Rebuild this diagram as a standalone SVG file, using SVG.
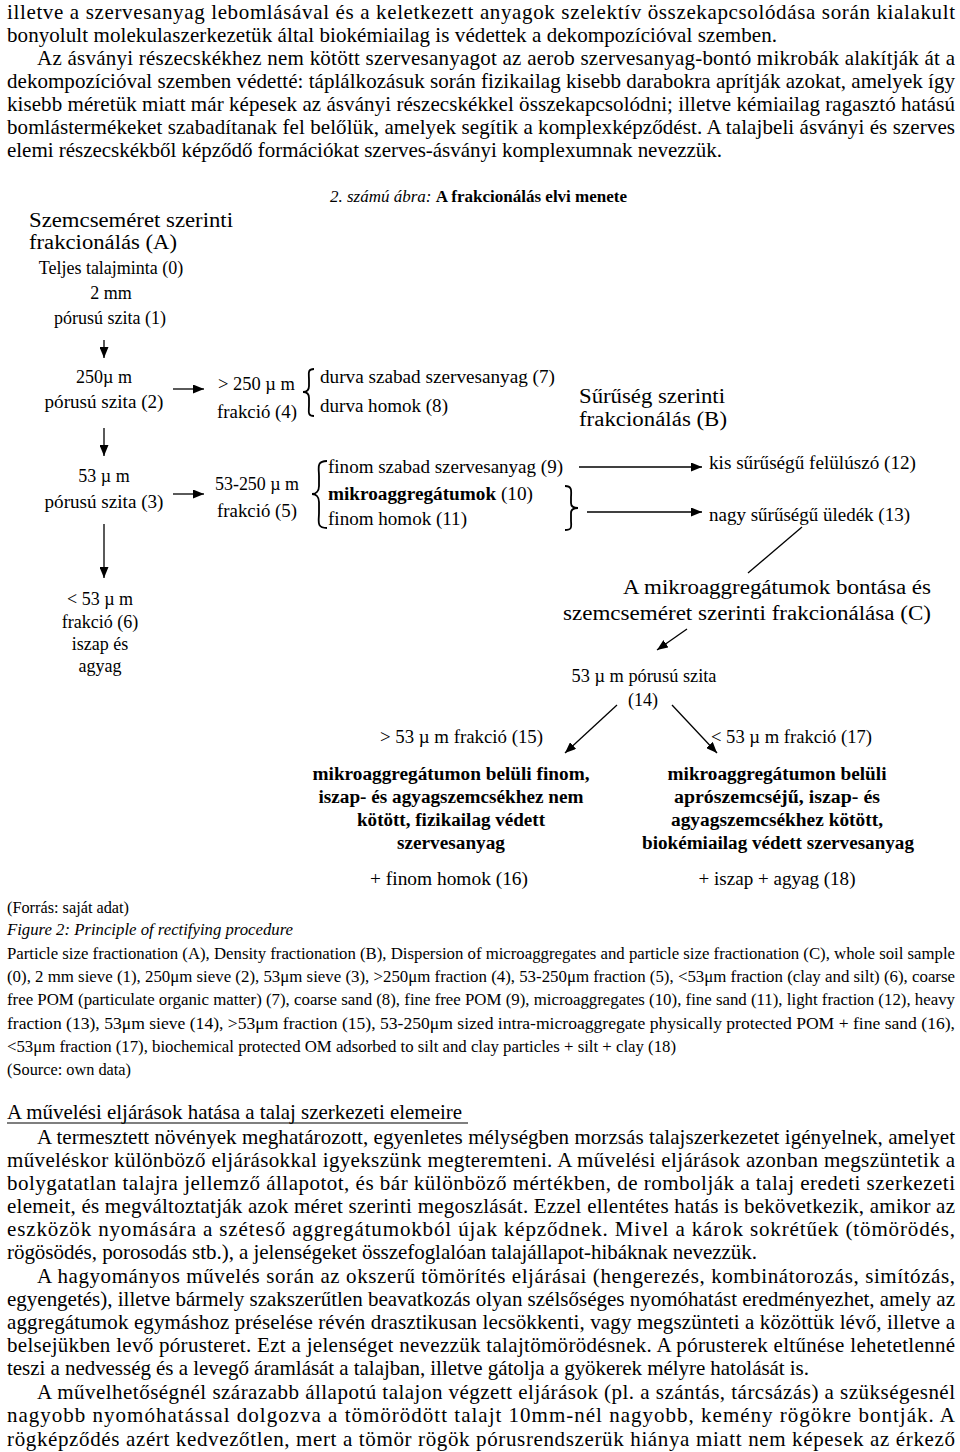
<svg xmlns="http://www.w3.org/2000/svg" width="960" height="1452" viewBox="0 0 960 1452">
<style>
text{font-family:"Liberation Serif","Times New Roman",serif;fill:#000}
.p{font-size:21px}
.c{font-size:16px}
.d{font-size:18px}
.h{font-size:20px}
.bd{font-weight:bold}
.it{font-style:italic}
.m{text-anchor:middle}
.ln{stroke:#000;stroke-width:1.3;fill:none}
.br{stroke:#000;stroke-width:1.8;fill:none}
</style>
<defs>
<marker id="ah" markerUnits="userSpaceOnUse" markerWidth="11" markerHeight="9" refX="11" refY="4.5" orient="auto">
<path d="M0,0 L11,4.5 L0,9 z" fill="#000"/>
</marker>
</defs>
<rect width="960" height="1452" fill="#fff"/>

<g id="text-top" class="p">
<text class="p" x="7" y="19" textLength="948" lengthAdjust="spacing">illetve a szervesanyag lebomlásával és a keletkezett anyagok szelektív összekapcsolódása során kialakult</text>
<text class="p" x="7" y="42" textLength="770" lengthAdjust="spacing">bonyolult molekulaszerkezetük által biokémiailag is védettek a dekompozícióval szemben.</text>
<text class="p" x="37" y="65" textLength="918" lengthAdjust="spacing">Az ásványi részecskékhez nem kötött szervesanyagot az aerob szervesanyag-bontó mikrobák alakítják át a</text>
<text class="p" x="7" y="88" textLength="948" lengthAdjust="spacing">dekompozícióval szemben védetté: táplálkozásuk során fizikailag kisebb darabokra aprítják azokat, amelyek így</text>
<text class="p" x="7" y="111" textLength="948" lengthAdjust="spacing">kisebb méretük miatt már képesek az ásványi részecskékkel összekapcsolódni; illetve kémiailag ragasztó hatású</text>
<text class="p" x="7" y="134" textLength="948" lengthAdjust="spacing">bomlástermékeket szabadítanak fel belőlük, amelyek segítik a komplexképződést. A talajbeli ásványi és szerves</text>
<text class="p" x="7" y="157" textLength="715" lengthAdjust="spacing">elemi részecskékből képződő formációkat szerves-ásványi komplexumnak nevezzük.</text>
</g>

<g id="fig-title">
<text class="c" x="330" y="202" textLength="297" lengthAdjust="spacingAndGlyphs"><tspan class="it">2. számú ábra: </tspan><tspan class="bd">A frakcionálás elvi menete</tspan></text>
</g>

<g id="connectors">
<line class="ln" x1="104" y1="340" x2="104" y2="358" marker-end="url(#ah)"/>
<line class="ln" x1="104" y1="428" x2="104" y2="456" marker-end="url(#ah)"/>
<line class="ln" x1="104" y1="524" x2="104" y2="578" marker-end="url(#ah)"/>
<line class="ln" x1="173" y1="389" x2="204" y2="389" marker-end="url(#ah)"/>
<line class="ln" x1="173" y1="494" x2="204" y2="494" marker-end="url(#ah)"/>
<line class="ln" x1="579" y1="467" x2="702" y2="467" marker-end="url(#ah)"/>
<line class="ln" x1="587" y1="512" x2="702" y2="512" marker-end="url(#ah)"/>
<line class="ln" x1="802" y1="527" x2="748" y2="573"/>
<line class="ln" x1="687" y1="629" x2="657" y2="650" marker-end="url(#ah)"/>
<line class="ln" x1="617" y1="705" x2="565" y2="753" marker-end="url(#ah)"/>
<line class="ln" x1="672" y1="705" x2="717" y2="753" marker-end="url(#ah)"/>
<path class="br" d="M314,369 C307,369 309,374 309,380 L309,386 C309,390 307,392 303,392 C307,392 309,394 309,398 L309,405 C309,411 307,416 314,416"/>
<path class="br" d="M327,461 C316,461 319,468 319,476 L319,486 C319,491 316,494 312,494 C316,494 319,497 319,502 L319,513 C319,521 316,528 327,528"/>
<path class="br" d="M565,486 C573,486 571,492 571,498 L571,503 C571,506 573,508 578,508 C573,508 571,510 571,513 L571,520 C571,526 573,530 565,530"/>
</g>

<g id="head-A">
<text class="h" x="29" y="227" textLength="204" lengthAdjust="spacingAndGlyphs">Szemcseméret szerinti</text>
<text class="h" x="29" y="249" textLength="148" lengthAdjust="spacingAndGlyphs">frakcionálás (A)</text>
</g>
<g id="n0">
<text class="d m" x="111" y="274">Teljes talajminta (0)</text>
</g>
<g id="n1">
<text class="d m" x="111" y="299">2 mm</text>
<text class="d m" x="110" y="324">pórusú szita (1)</text>
</g>
<g id="n2">
<text class="d m" x="104" y="383">250µ m</text>
<text class="d m" x="104" y="408" textLength="119" lengthAdjust="spacingAndGlyphs">pórusú szita (2)</text>
</g>
<g id="n4">
<text class="d" x="218" y="390" textLength="77" lengthAdjust="spacingAndGlyphs">&gt; 250 µ m</text>
<text class="d" x="217" y="418" textLength="80" lengthAdjust="spacingAndGlyphs">frakció (4)</text>
</g>
<g id="n7-8">
<text class="d" x="320" y="383" textLength="235" lengthAdjust="spacingAndGlyphs">durva szabad szervesanyag (7)</text>
<text class="d" x="320" y="412" textLength="128" lengthAdjust="spacingAndGlyphs">durva homok (8)</text>
</g>
<g id="head-B">
<text class="h" x="579" y="403" textLength="146" lengthAdjust="spacingAndGlyphs">Sűrűség szerinti</text>
<text class="h" x="579" y="426" textLength="148" lengthAdjust="spacingAndGlyphs">frakcionálás (B)</text>
</g>
<g id="n3">
<text class="d m" x="104" y="482">53 µ m</text>
<text class="d m" x="104" y="508" textLength="119" lengthAdjust="spacingAndGlyphs">pórusú szita (3)</text>
</g>
<g id="n5">
<text class="d" x="215" y="490" textLength="84" lengthAdjust="spacingAndGlyphs">53-250 µ m</text>
<text class="d" x="217" y="517" textLength="80" lengthAdjust="spacingAndGlyphs">frakció (5)</text>
</g>
<g id="n9-11">
<text class="d" x="328" y="473" textLength="235" lengthAdjust="spacingAndGlyphs">finom szabad szervesanyag (9)</text>
<text class="d" x="328" y="500" textLength="205" lengthAdjust="spacingAndGlyphs"><tspan class="bd">mikroaggregátumok</tspan> (10)</text>
<text class="d" x="328" y="525" textLength="139" lengthAdjust="spacingAndGlyphs">finom homok (11)</text>
</g>
<g id="n12">
<text class="d" x="709" y="469" textLength="207" lengthAdjust="spacingAndGlyphs">kis sűrűségű felülúszó (12)</text>
</g>
<g id="n13">
<text class="d" x="709" y="521" textLength="201" lengthAdjust="spacingAndGlyphs">nagy sűrűségű üledék (13)</text>
</g>
<g id="n6">
<text class="d m" x="100" y="605">&lt; 53 µ m</text>
<text class="d m" x="100" y="628">frakció (6)</text>
<text class="d m" x="100" y="650">iszap és</text>
<text class="d m" x="100" y="672">agyag</text>
</g>
<g id="head-C">
<text class="h" x="623" y="594" textLength="308" lengthAdjust="spacingAndGlyphs">A mikroaggregátumok bontása és</text>
<text class="h" x="563" y="620" textLength="368" lengthAdjust="spacingAndGlyphs">szemcseméret szerinti frakcionálása (C)</text>
</g>
<g id="n14">
<text class="d m" x="644" y="682" textLength="145" lengthAdjust="spacingAndGlyphs">53 µ m pórusú szita</text>
<text class="d m" x="643" y="706">(14)</text>
</g>
<g id="n15">
<text class="d" x="380" y="743" textLength="163" lengthAdjust="spacingAndGlyphs">&gt; 53 µ m frakció (15)</text>
</g>
<g id="n17">
<text class="d" x="711" y="743" textLength="161" lengthAdjust="spacingAndGlyphs">&lt; 53 µ m frakció (17)</text>
</g>
<g id="n16">
<text class="d bd m" x="451" y="780" textLength="277" lengthAdjust="spacingAndGlyphs">mikroaggregátumon belüli finom,</text>
<text class="d bd m" x="451" y="803" textLength="265" lengthAdjust="spacingAndGlyphs">iszap- és agyagszemcsékhez nem</text>
<text class="d bd m" x="451" y="826" textLength="188" lengthAdjust="spacingAndGlyphs">kötött, fizikailag védett</text>
<text class="d bd m" x="451" y="849" textLength="108" lengthAdjust="spacingAndGlyphs">szervesanyag</text>
<text class="d m" x="449" y="885" textLength="158" lengthAdjust="spacingAndGlyphs">+ finom homok (16)</text>
</g>
<g id="n18">
<text class="d bd m" x="777" y="780" textLength="219" lengthAdjust="spacingAndGlyphs">mikroaggregátumon belüli</text>
<text class="d bd m" x="777" y="803" textLength="206" lengthAdjust="spacingAndGlyphs">aprószemcséjű, iszap- és</text>
<text class="d bd m" x="777" y="826" textLength="212" lengthAdjust="spacingAndGlyphs">agyagszemcsékhez kötött,</text>
<text class="d bd m" x="778" y="849" textLength="272" lengthAdjust="spacingAndGlyphs">biokémiailag védett szervesanyag</text>
<text class="d m" x="777" y="885" textLength="157" lengthAdjust="spacingAndGlyphs">+ iszap + agyag (18)</text>
</g>

<g id="caption">
<text class="c" x="7" y="913" textLength="122" lengthAdjust="spacingAndGlyphs">(Forrás: saját adat)</text>
<text class="c it" x="7" y="935" textLength="286" lengthAdjust="spacingAndGlyphs">Figure 2: Principle of rectifying procedure</text>
<text class="c" x="7" y="959" textLength="948" lengthAdjust="spacingAndGlyphs">Particle size fractionation (A), Density fractionation (B), Dispersion of microaggregates and particle size fractionation (C), whole soil sample</text>
<text class="c" x="7" y="982" textLength="948" lengthAdjust="spacingAndGlyphs">(0), 2 mm sieve (1), 250μm sieve (2), 53μm sieve (3), &gt;250μm fraction (4), 53-250μm fraction (5), &lt;53μm fraction (clay and silt) (6), coarse</text>
<text class="c" x="7" y="1005" textLength="948" lengthAdjust="spacingAndGlyphs">free POM (particulate organic matter) (7), coarse sand (8), fine free POM (9), microaggregates (10), fine sand (11), light fraction (12), heavy</text>
<text class="c" x="7" y="1029" textLength="948" lengthAdjust="spacingAndGlyphs">fraction (13), 53μm sieve (14), &gt;53μm fraction (15), 53-250μm sized intra-microaggregate physically protected POM + fine sand (16),</text>
<text class="c" x="7" y="1052" textLength="669" lengthAdjust="spacingAndGlyphs">&lt;53μm fraction (17), biochemical protected OM adsorbed to silt and clay particles + silt + clay (18)</text>
<text class="c" x="7" y="1075" textLength="124" lengthAdjust="spacingAndGlyphs">(Source: own data)</text>
</g>

<g id="text-bottom">
<text class="p" x="7" y="1119" textLength="455" lengthAdjust="spacingAndGlyphs">A művelési eljárások hatása a talaj szerkezeti elemeire</text>
<line x1="7" y1="1123" x2="468" y2="1123" stroke="#000" stroke-width="1.2"/>
<text class="p" x="37" y="1144" textLength="918" lengthAdjust="spacing">A termesztett növények meghatározott, egyenletes mélységben morzsás talajszerkezetet igényelnek, amelyet</text>
<text class="p" x="7" y="1167" textLength="948" lengthAdjust="spacing">műveléskor különböző eljárásokkal igyekszünk megteremteni. A művelési eljárások azonban megszüntetik a</text>
<text class="p" x="7" y="1190" textLength="948" lengthAdjust="spacing">bolygatatlan talajra jellemző állapotot, és bár különböző mértékben, de rombolják a talaj eredeti szerkezeti</text>
<text class="p" x="7" y="1213" textLength="948" lengthAdjust="spacing">elemeit, és megváltoztatják azok méret szerinti megoszlását. Ezzel ellentétes hatás is bekövetkezik, amikor az</text>
<text class="p" x="7" y="1236" textLength="948" lengthAdjust="spacing">eszközök nyomására a széteső aggregátumokból újak képződnek. Mivel a károk sokrétűek (tömörödés,</text>
<text class="p" x="7" y="1259" textLength="750" lengthAdjust="spacing">rögösödés, porosodás stb.), a jelenségeket összefoglalóan talajállapot-hibáknak nevezzük.</text>
<text class="p" x="37" y="1283" textLength="918" lengthAdjust="spacing">A hagyományos művelés során az okszerű tömörítés eljárásai (hengerezés, kombinátorozás, simítózás,</text>
<text class="p" x="7" y="1306" textLength="948" lengthAdjust="spacing">egyengetés), illetve bármely szakszerűtlen beavatkozás olyan szélsőséges nyomóhatást eredményezhet, amely az</text>
<text class="p" x="7" y="1329" textLength="948" lengthAdjust="spacing">aggregátumok egymáshoz préselése révén drasztikusan lecsökkenti, vagy megszünteti a közöttük lévő, illetve a</text>
<text class="p" x="7" y="1352" textLength="948" lengthAdjust="spacing">belsejükben levő pórusteret. Ezt a jelenséget nevezzük talajtömörödésnek. A pórusterek eltűnése lehetetlenné</text>
<text class="p" x="7" y="1375" textLength="802" lengthAdjust="spacing">teszi a nedvesség és a levegő áramlását a talajban, illetve gátolja a gyökerek mélyre hatolását is.</text>
<text class="p" x="37" y="1399" textLength="918" lengthAdjust="spacing">A művelhetőségnél szárazabb állapotú talajon végzett eljárások (pl. a szántás, tárcsázás) a szükségesnél</text>
<text class="p" x="7" y="1422" textLength="948" lengthAdjust="spacing">nagyobb nyomóhatással dolgozva a tömörödött talajt 10mm-nél nagyobb, kemény rögökre bontják. A</text>
<text class="p" x="7" y="1446" textLength="948" lengthAdjust="spacing">rögképződés azért kedvezőtlen, mert a tömör rögök pórusrendszerük hiánya miatt nem képesek az érkező</text>
</g>
</svg>
